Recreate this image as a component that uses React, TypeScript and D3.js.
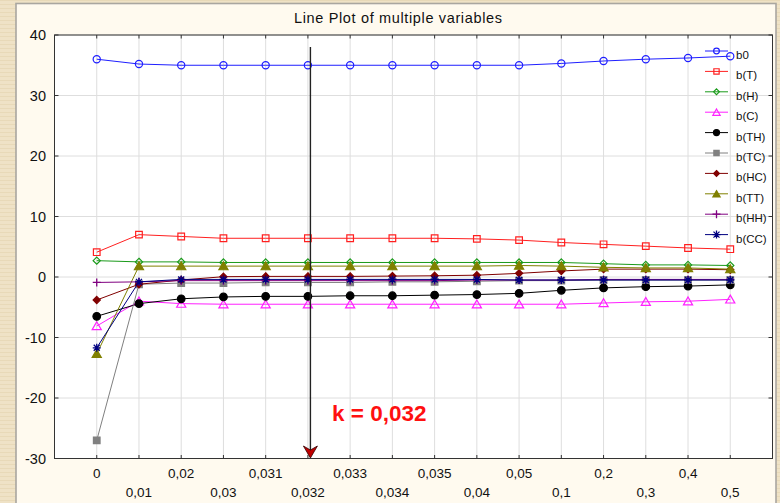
import React from 'react';
import { scalePoint, scaleLinear, line as d3Line, symbol, symbolSquare, symbolTriangle } from 'd3';

// categories on the x axis (k values)
const kLabels = ['0', '0,01', '0,02', '0,03', '0,031', '0,032', '0,033', '0,034', '0,035', '0,04', '0,05', '0,1', '0,2', '0,3', '0,4', '0,5'];
const yTicks = [-30, -20, -10, 0, 10, 20, 30, 40];

// series values, one per k
const b0 = [36.0, 35.2, 35.0, 35.0, 35.0, 35.0, 35.0, 35.0, 35.0, 35.0, 35.0, 35.3, 35.7, 36.0, 36.2, 36.5];
const bT = [4.1, 7.0, 6.7, 6.4, 6.4, 6.4, 6.4, 6.4, 6.4, 6.3, 6.1, 5.7, 5.4, 5.1, 4.8, 4.6];
const bH = [2.7, 2.5, 2.5, 2.4, 2.4, 2.4, 2.4, 2.4, 2.4, 2.4, 2.4, 2.4, 2.2, 2.0, 2.0, 1.9];
const bC = [-8.1, -4.0, -4.4, -4.5, -4.5, -4.5, -4.5, -4.5, -4.5, -4.5, -4.5, -4.5, -4.3, -4.1, -4.0, -3.7];
const bTH = [-6.5, -4.4, -3.6, -3.3, -3.2, -3.2, -3.1, -3.1, -3.0, -2.9, -2.7, -2.2, -1.8, -1.6, -1.5, -1.3];
const bTC = [-27.0, -1.2, -1.0, -1.0, -0.9, -0.9, -0.9, -0.8, -0.8, -0.7, -0.6, -0.6, -0.5, -0.5, -0.5, -0.5];
const bHC = [-3.8, -1.2, -0.5, 0.05, 0.1, 0.1, 0.1, 0.15, 0.2, 0.3, 0.6, 1.0, 1.3, 1.3, 1.3, 1.2];
const bTT = [-12.7, 1.8, 1.8, 1.8, 1.8, 1.8, 1.8, 1.8, 1.8, 1.8, 1.9, 1.8, 1.6, 1.5, 1.5, 1.3];
const bHH = [-0.9, -0.8, -0.6, -0.6, -0.6, -0.6, -0.6, -0.6, -0.6, -0.5, -0.5, -0.5, -0.4, -0.4, -0.4, -0.4];
const bCC = [-11.7, -0.8, -0.4, -0.4, -0.4, -0.4, -0.4, -0.4, -0.4, -0.4, -0.5, -0.5, -0.5, -0.5, -0.5, -0.5];

type Marker = 'circle' | 'square' | 'diamond' | 'triangle' | 'plus' | 'star';
interface Series { name: string; values: number[]; color: string; marker: Marker; filled: boolean; }

const series: Series[] = [
    { name: 'b0', values: b0, color: '#1f1fff', marker: 'circle', filled: false },
    { name: 'b(T)', values: bT, color: '#ff2020', marker: 'square', filled: false },
    { name: 'b(H)', values: bH, color: '#1a9a1a', marker: 'diamond', filled: false },
    { name: 'b(C)', values: bC, color: '#ff20ff', marker: 'triangle', filled: false },
    { name: 'b(TH)', values: bTH, color: '#000000', marker: 'circle', filled: true },
    { name: 'b(TC)', values: bTC, color: '#808080', marker: 'square', filled: true },
    { name: 'b(HC)', values: bHC, color: '#800000', marker: 'diamond', filled: true },
    { name: 'b(TT)', values: bTT, color: '#808000', marker: 'triangle', filled: true },
    { name: 'b(HH)', values: bHH, color: '#800080', marker: 'plus', filled: false },
    { name: 'b(CC)', values: bCC, color: '#000080', marker: 'star', filled: false },
];

const width = 780;
const height = 503;
const plot = { left: 54.5, right: 772.5, top: 35, bottom: 458.5 };
const font = 'Arial, "Liberation Sans", sans-serif';

const MarkerShape: React.FC<{ x: number; y: number; s: Series; scale?: number }> = ({ x, y, s, scale = 1 }) => {
    const fill = s.filled ? s.color : 'none';
    const common = { stroke: s.color, strokeWidth: 1.2, fill };
    const d = 3.6 * scale;
    switch (s.marker) {
        case 'circle':
            return <circle cx={x} cy={y} r={(s.filled ? 3.8 : 3.6) * scale} {...common} />;
        case 'square':
            return <path transform={`translate(${x},${y})`} d={symbol(symbolSquare, 44 * scale * scale)() || ''} {...common} />;
        case 'diamond':
            return <path transform={`translate(${x},${y})`} d={`M0,${-d}L${d},0L0,${d}L${-d},0Z`} {...common} />;
        case 'triangle':
            return <path transform={`translate(${x},${y + 1})`} d={symbol(symbolTriangle, 36 * scale * scale)() || ''} {...common} />;
        case 'plus':
            return <path transform={`translate(${x},${y})`} d={`M-4,0H4M0,-4V4`} stroke={s.color} strokeWidth={1.3} fill="none" />;
        case 'star':
            return (
                <path
                    transform={`translate(${x},${y})`}
                    d="M-4,0H4M0,-4V4M-3,-3L3,3M-3,3L3,-3"
                    stroke={s.color}
                    strokeWidth={1.3}
                    fill="none"
                />
            );
        default:
            return null;
    }
};

const App: React.FC = () => {
    const xScale = scalePoint<string>().domain(kLabels).range([plot.left, plot.right]).padding(1);
    const yScale = scaleLinear().domain([-30, 40]).range([plot.bottom, plot.top]);

    const lineGen = d3Line<number>()
        .x((_, i) => xScale(kLabels[i]) as number)
        .y(d => yScale(d));

    const arrowX = (xScale('0,032') as number) + 2.5;
    const legendX = 705;
    const legendY = 51;
    const legendStep = 20.4;

    return (
        <svg width={width} height={height} style={{ position: 'absolute', left: 0, top: 0, fontFamily: font }}>
            <defs>
                <pattern id="paper" width="6" height="4" patternUnits="userSpaceOnUse">
                    <rect width="6" height="4" fill="#efe2c6" />
                    <rect width="6" height="1" fill="#e8d9b8" />
                </pattern>
            </defs>
            <rect width={width} height={height} fill="url(#paper)" />
            <rect x={16} y={3.5} width={760} height={510} fill="#fffaef" stroke="#a9a6a0" strokeWidth={1.6} />

            <text x={398} y={23} textAnchor="middle" fontSize={14.5} fill="#111" textLength={208} lengthAdjust="spacing">
                Line Plot of multiple variables
            </text>

            {/* plot area */}
            <rect x={plot.left} y={plot.top} width={plot.right - plot.left} height={plot.bottom - plot.top} fill="#ffffff" />

            {/* grid */}
            <g stroke="#dedede" strokeWidth={1}>
                {kLabels.map(k => (
                    <line key={k} x1={xScale(k)} x2={xScale(k)} y1={plot.top} y2={plot.bottom} />
                ))}
                {yTicks.map(t => (
                    <line key={t} x1={plot.left} x2={plot.right} y1={yScale(t)} y2={yScale(t)} />
                ))}
            </g>

            {/* ticks */}
            <g stroke="#333" strokeWidth={1}>
                {kLabels.map(k => (
                    <g key={k}>
                        <line x1={xScale(k)} x2={xScale(k)} y1={plot.top} y2={plot.top + 3.5} />
                        <line x1={xScale(k)} x2={xScale(k)} y1={plot.bottom} y2={plot.bottom - 3.5} />
                    </g>
                ))}
                {yTicks.map(t => (
                    <g key={t}>
                        <line x1={plot.left} x2={plot.left + 4} y1={yScale(t)} y2={yScale(t)} />
                        <line x1={plot.right} x2={plot.right - 4} y1={yScale(t)} y2={yScale(t)} />
                    </g>
                ))}
            </g>

            {/* series */}
            {series.map(s => (
                <g key={s.name}>
                    <path d={lineGen(s.values) || ''} fill="none" stroke={s.color} strokeWidth={1} />
                    {s.values.map((v, i) => (
                        <MarkerShape key={i} x={xScale(kLabels[i]) as number} y={yScale(v)} s={s} />
                    ))}
                </g>
            ))}

            {/* frame */}
            <rect x={plot.left} y={plot.top} width={plot.right - plot.left} height={plot.bottom - plot.top} fill="none" stroke="#333" strokeWidth={1} />

            {/* y labels */}
            {yTicks.map(t => (
                <text key={t} x={46} y={yScale(t) + 5} textAnchor="end" fontSize={14.5} fill="#111">{t}</text>
            ))}

            {/* x labels, staggered */}
            {kLabels.map((k, i) => (
                <text key={k} x={xScale(k)} y={i % 2 === 0 ? 478 : 497} textAnchor="middle" fontSize={13.5} fill="#111">{k}</text>
            ))}

            {/* legend */}
            {series.map((s, i) => {
                const y = legendY + i * legendStep;
                return (
                    <g key={s.name}>
                        <line x1={legendX} x2={legendX + 23} y1={y} y2={y} stroke={s.color} strokeWidth={1} />
                        <MarkerShape x={legendX + 11.5} y={y} s={s} scale={0.8} />
                        <text x={legendX + 31} y={y + 8} fontSize={11.5} fill="#111">{s.name}</text>
                    </g>
                );
            })}

            {/* k annotation */}
            <line x1={arrowX} x2={arrowX} y1={47} y2={450} stroke="#222" strokeWidth={1.4} />
            <path
                d={`M${arrowX - 7},446 L${arrowX},450 L${arrowX + 7},446 L${arrowX},458 Z`}
                fill="#c00000"
                stroke="#300"
                strokeWidth={0.8}
            />
            <text x={332} y={421} fontSize={22.5} fontWeight="bold" fill="#ff1010">k = 0,032</text>
        </svg>
    );
};

export default App;
